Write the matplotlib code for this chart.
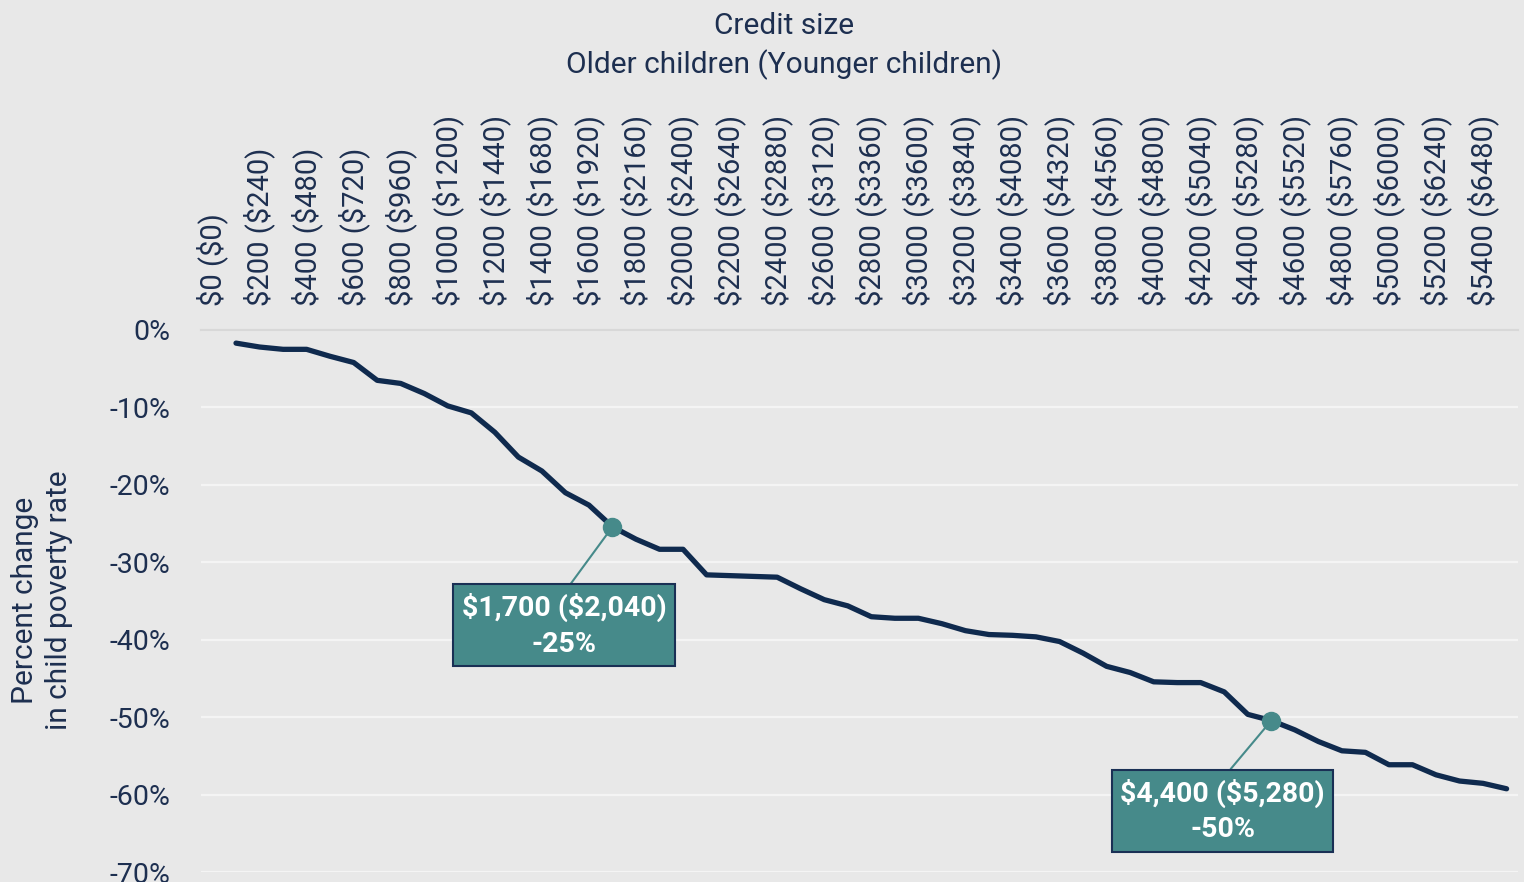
import matplotlib
matplotlib.use("Agg")
import matplotlib.pyplot as plt
from matplotlib.ticker import FuncFormatter

plt.rcParams['font.family'] = ['Roboto', 'DejaVu Sans']
plt.rcParams['text.parse_math'] = False  # dollar signs are literal

# credit for older children, $100 steps
credit = [100, 200, 300, 400, 500, 600, 700, 800, 900, 1000,
          1100, 1200, 1300, 1400, 1500, 1600, 1700, 1800, 1900, 2000,
          2100, 2200, 2300, 2400, 2500, 2600, 2700, 2800, 2900, 3000,
          3100, 3200, 3300, 3400, 3500, 3600, 3700, 3800, 3900, 4000,
          4100, 4200, 4300, 4400, 4500, 4600, 4700, 4800, 4900, 5000,
          5100, 5200, 5300, 5400, 5500]
# percent change in child poverty rate
poverty_change = [-1.7, -2.2, -2.5, -2.5, -3.4, -4.2, -6.5, -6.9, -8.2, -9.8,
                  -10.7, -13.2, -16.4, -18.2, -21.0, -22.6, -25.4, -27.0, -28.3, -28.3,
                  -31.6, -31.7, -31.8, -31.9, -33.4, -34.8, -35.6, -37.0, -37.2, -37.2,
                  -37.9, -38.8, -39.3, -39.4, -39.6, -40.2, -41.7, -43.4, -44.2, -45.4,
                  -45.5, -45.5, -46.7, -49.6, -50.4, -51.6, -53.1, -54.3, -54.5, -56.1,
                  -56.1, -57.4, -58.2, -58.5, -59.2]

tick_credit = [0, 200, 400, 600, 800, 1000, 1200, 1400, 1600, 1800,
               2000, 2200, 2400, 2600, 2800, 3000, 3200, 3400, 3600, 3800,
               4000, 4200, 4400, 4600, 4800, 5000, 5200, 5400]
tick_younger = [0, 240, 480, 720, 960, 1200, 1440, 1680, 1920, 2160,
                2400, 2640, 2880, 3120, 3360, 3600, 3840, 4080, 4320, 4560,
                4800, 5040, 5280, 5520, 5760, 6000, 6240, 6480]
tick_labels = [f"${o} (${y})" for o, y in zip(tick_credit, tick_younger)]

# highlighted points, their callout text and callout offsets (points)
highlight_credit = [1700, 4500]
highlight_text = ["$1,700 ($2,040)\n-25%", "$4,400 ($5,280)\n-50%"]
callout_offset = [(-35, -71), (-35, -65)]

NAVY = "#1d2f50"
LINE = "#0f2a4e"
TEAL = "#468a8a"
BG = "#e8e8e8"

fig = plt.figure(figsize=(15.24, 8.82), dpi=100, facecolor=BG)
ax = fig.add_axes([0.1317, 0.0108, 0.8646, 0.6151], facecolor=BG)

ax.plot(credit, poverty_change, color=LINE, lw=3.8, solid_capstyle="round",
        solid_joinstyle="round", zorder=3)

for xc, txt, off in zip(highlight_credit, highlight_text, callout_offset):
    yc = poverty_change[credit.index(xc)]
    ax.plot([xc], [yc], "o", color=TEAL, markersize=13, zorder=6)
    ax.annotate(txt, xy=(xc, yc), xytext=off, textcoords="offset points",
                ha="center", va="center", fontsize=20.5, fontweight="bold",
                color="white", linespacing=1.4, zorder=5,
                bbox=dict(boxstyle="square,pad=0.3", fc=TEAL, ec="#1a3055", lw=1.5),
                arrowprops=dict(arrowstyle="-", color=TEAL, lw=1.5,
                                shrinkA=0, shrinkB=0, relpos=(0.5, 1.0)))

ax.set_xlim(-50, 5550)
ax.set_ylim(-70, 0)
ax.set_yticks(range(-70, 1, 10))
ax.yaxis.set_major_formatter(FuncFormatter(lambda v, p: f"{v:.0f}%"))
ax.set_xticks(tick_credit)
ax.set_xticklabels(tick_labels, rotation=90)
ax.xaxis.tick_top()
ax.tick_params(axis="x", length=0, pad=17, labelsize=21, labelcolor=NAVY)
ax.tick_params(axis="y", length=0, pad=22, labelsize=20.5, labelcolor=NAVY)

ax.yaxis.grid(True, color="#f4f4f4", lw=1.6)
ax.set_axisbelow(True)
for s in ["left", "right", "bottom"]:
    ax.spines[s].set_visible(False)
ax.spines["top"].set_color("#d8d8d8")
ax.spines["top"].set_linewidth(1.6)

fig.text(784 / 1524, 1 - 26 / 882, "Credit size", ha="center", va="center",
         fontsize=21.5, color=NAVY)
fig.text(784 / 1524, 1 - 65 / 882, "Older children (Younger children)",
         ha="center", va="center", fontsize=21.5, color=NAVY)
fig.text(42 / 1524, 1 - 600 / 882, "Percent change\nin child poverty rate",
         rotation=90, ha="center", va="center", fontsize=21.5, color=NAVY,
         linespacing=1.3)

fig.savefig("out.png", dpi=100, facecolor=BG)
